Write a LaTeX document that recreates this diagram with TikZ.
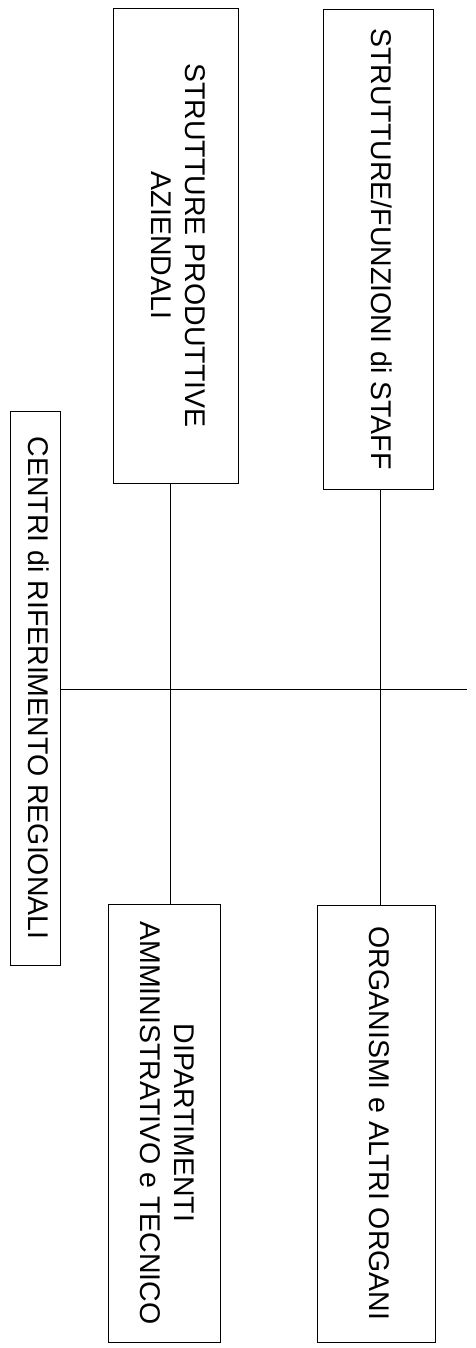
\documentclass[tikz,border=0pt]{standalone}
\usepackage{fontspec}
\usepackage{graphicx}
\setmainfont{Liberation Sans}
\tikzset{
  orgbox/.style={draw, line width=0.9pt, inner sep=0pt, outer sep=0pt, font=\fontsize{28.5}{34}\selectfont},
  link/.style={line width=1pt}
}
\newcommand{\vtext}[1]{\rotatebox{-90}{\begin{tabular}{@{}c@{}}#1\end{tabular}}}
\begin{document}
\begin{tikzpicture}[x=1pt,y=-1pt]
\useasboundingbox (0,0) rectangle (476,1348);
\node[orgbox, minimum width=125pt, minimum height=475pt] (A) at (175.5,245.5) {\vtext{STRUTTURE PRODUTTIVE\\AZIENDALI}};
\node[orgbox, minimum width=110pt, minimum height=480pt] (B) at (378,249) {\vtext{STRUTTURE/FUNZIONI di STAFF}};
\node[orgbox, minimum width=50pt, minimum height=554pt] (C) at (35,688) {\vtext{CENTRI di RIFERIMENTO REGIONALI}};
\node[orgbox, minimum width=112pt, minimum height=438pt] (D) at (164,1123) {\vtext{DIPARTIMENTI\\AMMINISTRATIVO e TECNICO}};
\node[orgbox, minimum width=118pt, minimum height=437pt] (E) at (376,1123.5) {\vtext{ORGANISMI e ALTRI ORGANI}};
\coordinate (hend) at (467,689);
\coordinate (va) at (170,0);
\coordinate (vb) at (380,0);
\draw[link] (C.east |- hend) -- (hend);
\draw[link] (A.south -| va) -- (D.north -| va);
\draw[link] (B.south -| vb) -- (E.north -| vb);
\end{tikzpicture}
\end{document}
